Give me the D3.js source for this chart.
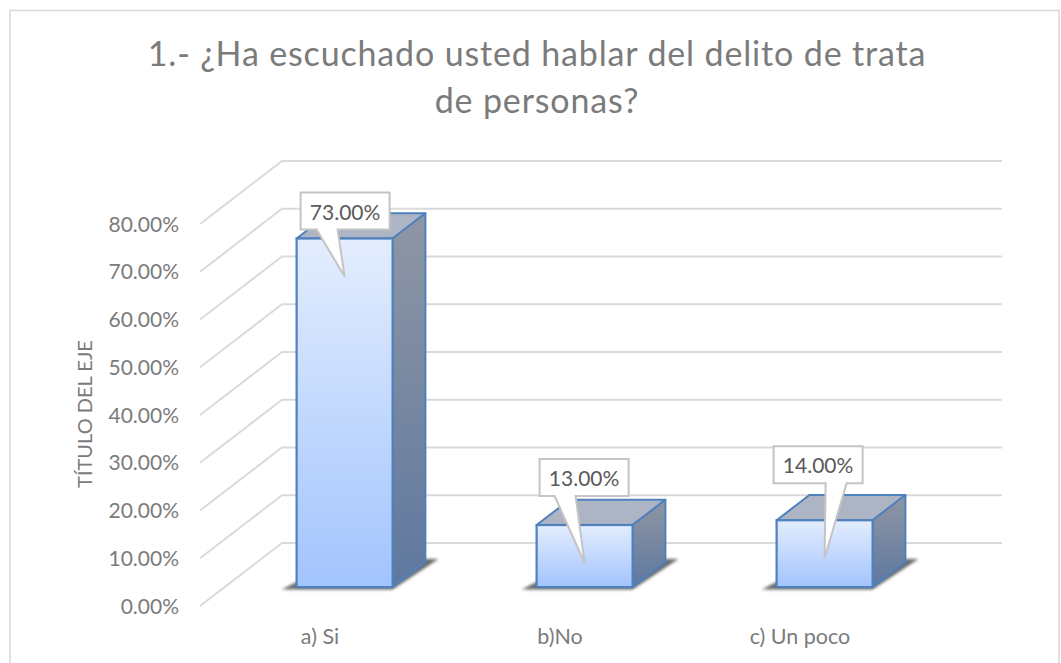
<!DOCTYPE html>
<html>
<head>
<meta charset="utf-8">
<script src="https://cdnjs.cloudflare.com/ajax/libs/d3/7.8.5/d3.min.js"></script>
<style>
  html, body { margin: 0; padding: 0; background: #fff; overflow: hidden; }
  text { font-family: Lato, "Open Sans", sans-serif; }
</style>
</head>
<body>
<script>
var categories = ["a) Si", "b)No", "c) Un poco"];
var values = [73, 13, 14];
var valueLabels = ["73.00%", "13.00%", "14.00%"];
var yTicks = [0, 10, 20, 30, 40, 50, 60, 70, 80];
var titleLines = ["1.- ¿Ha escuchado usted hablar del delito de trata", "de personas?"];
var axisTitle = "TÍTULO DEL EJE";

var w = 1061;
var h = 663;

// front plane of the 3d box, the back wall is this shifted by depth
var depth = { x: 82, y: -63 };
var xScale = d3.scaleBand().domain(categories).range([200, 920]).paddingInner(0).paddingOuter(0);
var yScale = d3.scaleLinear().domain([0, 80]).range([606, 224]);
var barShare = 0.4;
var barStart = 0.3;   // how far back in the box the bar starts
var barEnd = 0.7;

// moved by hand in the original, so each callout has its own offsets
var calloutW = 89;
var calloutH = 37;
var calloutTip = 38;
var calloutOffsets = [
  { dx: -44, dy: -84, base: 16 },
  { dx: -45, dy: -104, base: 15 },
  { dx: -51, dy: -112, base: 52 }
];

var svg = d3.select("body")
    .append("svg")
    .attr("width", w)
    .attr("height", h)
    .style("display", "block");

var defs = svg.append("defs");

var frontGrad = defs.append("linearGradient")
    .attr("id", "front")
    .attr("x1", 0).attr("y1", 0).attr("x2", 0).attr("y2", 1);
frontGrad.append("stop").attr("offset", "0%").attr("stop-color", "#e3edfe");
frontGrad.append("stop").attr("offset", "100%").attr("stop-color", "#a2c4fd");

var sideGrad = defs.append("linearGradient")
    .attr("id", "side")
    .attr("x1", 0).attr("y1", 0).attr("x2", 0).attr("y2", 1);
sideGrad.append("stop").attr("offset", "0%").attr("stop-color", "#8f96a4");
sideGrad.append("stop").attr("offset", "100%").attr("stop-color", "#5f789f");

defs.append("filter")
    .attr("id", "blur")
    .attr("x", "-20%").attr("y", "-50%").attr("width", "140%").attr("height", "200%")
  .append("feGaussianBlur")
    .attr("stdDeviation", 1.6);

// outer frame
svg.append("rect")
    .attr("x", 10)
    .attr("y", 10.5)
    .attr("width", 1049)
    .attr("height", 670)
    .attr("fill", "#fff")
    .attr("stroke", "#d9d9d9")
    .attr("stroke-width", 1.6);

// title
svg.append("g").selectAll("text")
    .data(titleLines)
    .enter()
    .append("text")
    .attr("x", 537)
    .attr("y", function(d, i) { return 66 + i * 47; })
    .attr("text-anchor", "middle")
    .attr("font-size", 34)
    .attr("letter-spacing", 0.85)
    .attr("fill", "#7b7b7b")
    .text(function(d) { return d; });

// grid: back wall line plus the diagonal on the side wall
var grid = svg.append("g");
var xLeft = xScale.range()[0];
var xRight = xScale.range()[1];

grid.selectAll("path")
    .data(yTicks)
    .enter()
    .append("path")
    .attr("fill", "none")
    .attr("stroke", "#dadada")
    .attr("stroke-width", 2)
    .attr("d", function(d) {
      var p = d3.path();
      p.moveTo(xLeft, yScale(d));
      p.lineTo(xLeft + depth.x, yScale(d) + depth.y);
      p.lineTo(xRight + depth.x, yScale(d) + depth.y);
      return p.toString();
    });

// y axis labels
svg.append("g").selectAll("text")
    .data(yTicks)
    .enter()
    .append("text")
    .attr("x", 179)
    .attr("y", function(d) { return yScale(d) + 7.5; })
    .attr("text-anchor", "end")
    .attr("font-size", 21)
    .attr("fill", "#7b7b7b")
    .text(function(d) { return d.toFixed(2) + "%"; });

svg.append("text")
    .attr("transform", "translate(92,414) rotate(-90)")
    .attr("text-anchor", "middle")
    .attr("font-size", 20)
    .attr("fill", "#7b7b7b")
    .text(axisTitle);

// x axis labels
svg.append("g").selectAll("text")
    .data(categories)
    .enter()
    .append("text")
    .attr("x", function(d) { return xScale(d) + xScale.bandwidth() / 2; })
    .attr("y", 644)
    .attr("text-anchor", "middle")
    .attr("font-size", 21.5)
    .attr("fill", "#7b7b7b")
    .text(function(d) { return d; });

// bars
function corner(i, t) {
  var cat = categories[i];
  var bw = xScale.bandwidth() * barShare;
  var x0 = xScale(cat) + (xScale.bandwidth() - bw) / 2;
  return {
    x0: x0 + t * depth.x,
    x1: x0 + bw + t * depth.x,
    base: yScale(0) + t * depth.y,
    top: yScale(values[i]) + t * depth.y
  };
}

function poly(pts) {
  return pts.map(function(p) { return p[0] + "," + p[1]; }).join(" ");
}

var bars = svg.append("g").selectAll("g")
    .data(values)
    .enter()
    .append("g");

// floor shadow
bars.append("polygon")
    .attr("fill", "#444")
    .attr("opacity", 0.8)
    .attr("filter", "url(#blur)")
    .attr("points", function(d, i) {
      var a = corner(i, barStart), b = corner(i, barEnd);
      return poly([[a.x0 - 15, a.base + 2.5], [a.x1, a.base + 2.5], [b.x1 + 13, b.base - 3], [b.x1, b.base - 3], [a.x0, a.base - 5]]);
    });

bars.append("polygon")
    .attr("fill", "#adb4c3")
    .attr("stroke", "#4f81bd")
    .attr("stroke-width", 2)
    .attr("stroke-linejoin", "round")
    .attr("points", function(d, i) {
      var a = corner(i, barStart), b = corner(i, barEnd);
      return poly([[a.x0, a.top], [b.x0, b.top], [b.x1, b.top], [a.x1, a.top]]);
    });

bars.append("polygon")
    .attr("fill", "url(#side)")
    .attr("stroke", "#4f81bd")
    .attr("stroke-width", 2)
    .attr("stroke-linejoin", "round")
    .attr("points", function(d, i) {
      var a = corner(i, barStart), b = corner(i, barEnd);
      return poly([[a.x1, a.top], [b.x1, b.top], [b.x1, b.base], [a.x1, a.base]]);
    });

bars.append("rect")
    .attr("fill", "url(#front)")
    .attr("stroke", "#4f81bd")
    .attr("stroke-width", 2.2)
    .attr("x", function(d, i) { return corner(i, barStart).x0; })
    .attr("y", function(d, i) { return corner(i, barStart).top; })
    .attr("width", function(d, i) { var a = corner(i, barStart); return a.x1 - a.x0; })
    .attr("height", function(d, i) { var a = corner(i, barStart); return a.base - a.top; });

// callouts
var callouts = svg.append("g").selectAll("g")
    .data(values)
    .enter()
    .append("g");

callouts.append("path")
    .attr("fill", "#fff")
    .attr("stroke", "#c4c4c4")
    .attr("stroke-width", 2)
    .attr("d", function(d, i) {
      var a = corner(i, barStart);
      var tipX = (a.x0 + a.x1) / 2;
      var tipY = a.top + calloutTip;
      var o = calloutOffsets[i];
      var left = tipX + o.dx;
      var top = tipY + o.dy;
      var p = d3.path();
      p.moveTo(left, top);
      p.lineTo(left + calloutW, top);
      p.lineTo(left + calloutW, top + calloutH);
      p.lineTo(left + o.base + 21, top + calloutH);
      p.lineTo(tipX, tipY);
      p.lineTo(left + o.base, top + calloutH);
      p.lineTo(left, top + calloutH);
      p.closePath();
      return p.toString();
    });

callouts.append("text")
    .attr("x", function(d, i) {
      var a = corner(i, barStart);
      return (a.x0 + a.x1) / 2 + calloutOffsets[i].dx + calloutW / 2;
    })
    .attr("y", function(d, i) {
      return corner(i, barStart).top + calloutTip + calloutOffsets[i].dy + calloutH / 2 + 8.5;
    })
    .attr("text-anchor", "middle")
    .attr("font-size", 21)
    .attr("fill", "#595959")
    .text(function(d, i) { return valueLabels[i]; });
</script>
</body>
</html>
